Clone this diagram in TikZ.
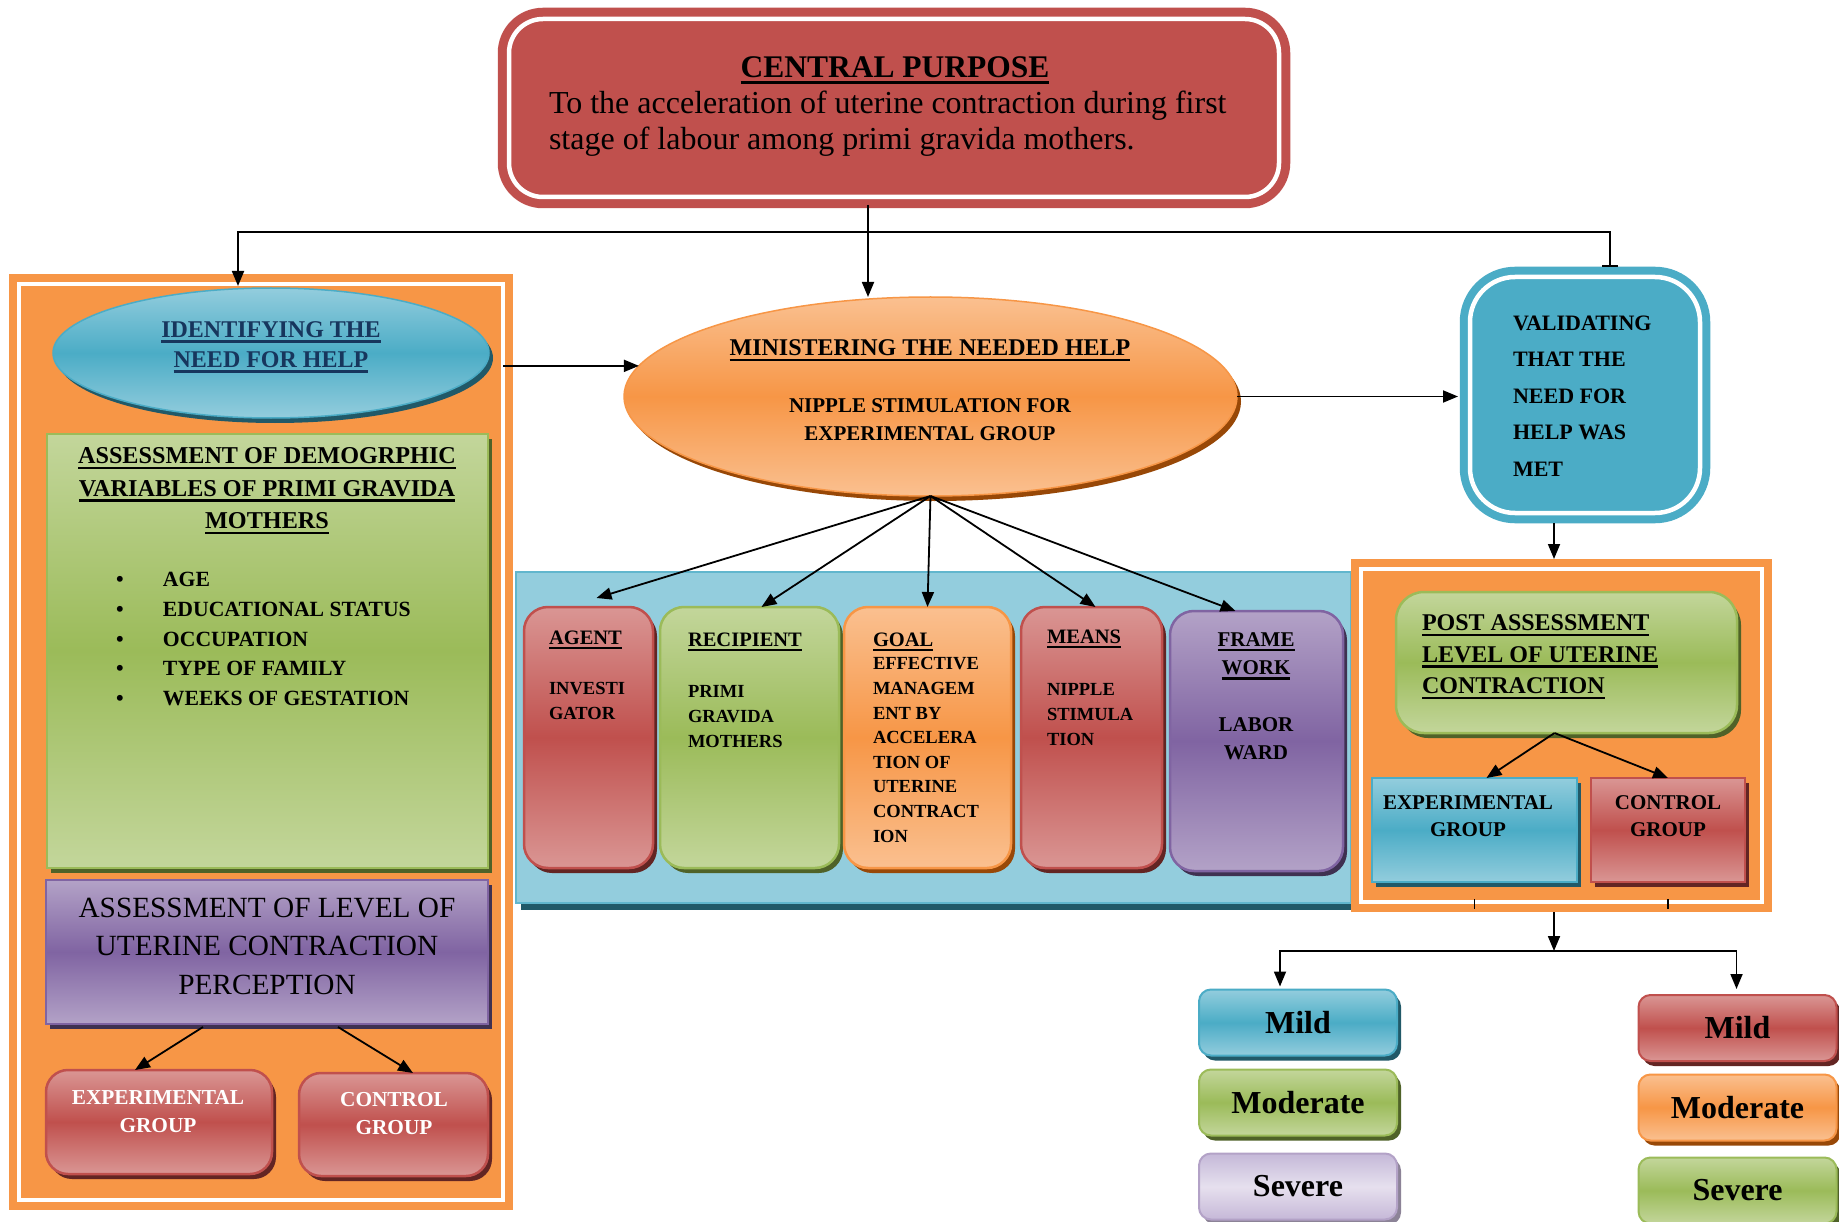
\documentclass[tikz,border=0pt]{standalone}
\usepackage{fontspec}
\setmainfont{Liberation Serif}
\usetikzlibrary{arrows.meta,shapes.geometric,shadows,calc}
\definecolor{redA}{HTML}{C0504D}\definecolor{redL}{HTML}{DA9694}\definecolor{redD}{HTML}{632523}
\definecolor{grnA}{HTML}{9BBB59}\definecolor{grnL}{HTML}{C3D69B}\definecolor{grnD}{HTML}{4F6228}
\definecolor{purA}{HTML}{8064A2}\definecolor{purL}{HTML}{B3A2C7}\definecolor{purD}{HTML}{3F3151}
\definecolor{bluA}{HTML}{4BACC6}\definecolor{bluL}{HTML}{93CDDD}\definecolor{bluD}{HTML}{215968}
\definecolor{ornA}{HTML}{F79646}\definecolor{ornL}{HTML}{FAC090}\definecolor{ornD}{HTML}{984807}
\definecolor{lavL}{HTML}{E6E0EE}\definecolor{lavM}{HTML}{C5B8D8}
\definecolor{navy}{HTML}{17365D}
\newcommand\fs[2]{\fontsize{#1}{#2}\selectfont}
\newcommand\uln[1]{\vtop{\hbox{#1}\kern2.8pt\hrule height 2.4pt}}
\begin{document}
\begin{tikzpicture}[x=1pt,y=-1pt,
  every node/.style={inner sep=0pt,outer sep=0pt},
  arr/.style={line width=1.8pt,-{Triangle[length=15pt,width=12pt]}},
  panel/.style={rectangle,fill=ornA,draw=ornA,double=white,double distance=4.5pt,line width=8pt},
  cpbox/.style={rectangle,rounded corners=34pt,fill=redA,draw=redA,double=white,double distance=4.5pt,line width=9pt},
  valbox/.style={rectangle,rounded corners=45pt,fill=bluA,draw=bluA,double=white,double distance=4.5pt,line width=8pt},
  gshade/.style n args={3}{top color=#1,bottom color=#1,middle color=#2,draw=#2,
     general shadow={fill=#3,shadow xshift=4pt,shadow yshift=-5pt}},
  redg/.style={gshade={redL}{redA}{redD}},
  grng/.style={gshade={grnL}{grnA}{grnD}},
  purg/.style={gshade={purL}{purA}{purD}},
  blug/.style={gshade={bluL}{bluA}{bluD}},
  orng/.style={gshade={ornL}{ornA}{ornD}},
  lavg/.style={top color=lavM,bottom color=lavM,middle color=lavL,draw=purL,
     general shadow={fill=purD!60,shadow xshift=4pt,shadow yshift=-5pt}},
  colbox/.style={rectangle,rounded corners=24pt,line width=2.5pt},
  sqbox/.style={rectangle,line width=2.5pt},
  grpbox/.style={rectangle,rounded corners=22pt,line width=2.5pt},
  lvbox/.style={rectangle,rounded corners=12pt,line width=2pt,minimum width=198,minimum height=66,font=\fs{32}{36}\bfseries},
  coltitle/.style={font=\fs{20.5}{26}\bfseries},
  colbody/.style={font=\fs{18.5}{25}\bfseries,align=left,anchor=west}
]
\useasboundingbox (0,0) rectangle (1839,1222);
\fill[white] (0,0) rectangle (1839,1222);

% central purpose
\node[cpbox,minimum width=770,minimum height=178] (cp) at (894,108) {};
\node[font=\fs{31.5}{36}\bfseries,anchor=base] (cpT) at (895,78) {\uln{CENTRAL PURPOSE}};
\node[font=\fs{32}{36},anchor=west,align=left] (cpB) at (549,124)
  {To the acceleration of uterine contraction during first\\stage of labour among primi gravida mothers.};

% left panel
\node[panel,minimum width=484,minimum height=916] (lp) at (261,742) {};
\node[ellipse,blug,line width=1.5pt,minimum width=436,minimum height=130] (idn) at (271,353) {};
\node[font=\fs{24}{30}\bfseries,text=navy,align=center] (idnT) at (271,347) {\uln{IDENTIFYING THE}\\\uln{NEED FOR HELP}};
\node[sqbox,grng,minimum width=441,minimum height=434] (demo) at (267.5,651) {};
\node[font=\fs{24.2}{32.5}\bfseries,align=center] (demoT) at (267,491) {\uln{ASSESSMENT OF DEMOGRPHIC}\\\uln{VARIABLES OF PRIMI GRAVIDA}\\\uln{MOTHERS}};
\node[font=\fs{21.7}{29.75}\bfseries,anchor=west,align=left] (demoL) at (116,639)
  {\makebox[47pt][l]{\textbullet}AGE\\\makebox[47pt][l]{\textbullet}EDUCATIONAL STATUS\\\makebox[47pt][l]{\textbullet}OCCUPATION\\\makebox[47pt][l]{\textbullet}TYPE OF FAMILY\\\makebox[47pt][l]{\textbullet}WEEKS OF GESTATION};
\node[sqbox,purg,minimum width=442,minimum height=144] (lvl) at (267,952) {};
\node[font=\fs{29.3}{38.5},align=center] (lvlT) at (267,946) {ASSESSMENT OF LEVEL OF\\UTERINE CONTRACTION\\PERCEPTION};
\node[grpbox,redg,minimum width=226,minimum height=104] (expL) at (159,1122) {};
\node[font=\fs{21.3}{28}\bfseries,text=white,align=center] (expLT) at (158,1112) {EXPERIMENTAL\\GROUP};
\node[grpbox,redg,minimum width=189,minimum height=103] (conL) at (393.5,1124.5) {};
\node[font=\fs{21.3}{28}\bfseries,text=white,align=center] (conLT) at (394,1114) {CONTROL\\GROUP};

% ministering
\node[ellipse,orng,line width=1.5pt,minimum width=613,minimum height=199] (mini) at (930.5,396.5) {};
\node[font=\fs{24}{30}\bfseries,anchor=base] (miniT) at (930,356) {\uln{MINISTERING THE NEEDED HELP}};
\node[font=\fs{21}{28}\bfseries,align=center] (miniB) at (930,420) {NIPPLE STIMULATION FOR\\EXPERIMENTAL GROUP};

% validating
\node[valbox,minimum width=230,minimum height=236] (val) at (1585,395) {};
\node[font=\fs{22}{36.5}\bfseries,anchor=west,align=left] (valT) at (1513,396) {VALIDATING\\THAT THE\\NEED FOR\\HELP WAS\\MET};

% band with five columns
\node[rectangle,fill=bluL,draw=bluA!70!bluL,line width=2pt,minimum width=835,minimum height=331,
   general shadow={fill=bluD,shadow xshift=5pt,shadow yshift=-7pt}] (band) at (933.5,737.5) {};
\node[colbox,redg,minimum width=129,minimum height=261] (agent) at (588.5,737.5) {};
\node[colbox,grng,minimum width=179,minimum height=261] (recip) at (749.5,737.5) {};
\node[colbox,orng,minimum width=167,minimum height=261] (goal) at (927.5,737.5) {};
\node[colbox,redg,minimum width=141,minimum height=261] (means) at (1091.5,737.5) {};
\node[colbox,purg,minimum width=173,minimum height=260] (frame) at (1256.5,741) {};
\node[coltitle,anchor=base west] (agentT) at (549,644) {\uln{AGENT}};
\node[colbody] (agentB) at (549,700.5) {INVESTI\\GATOR};
\node[coltitle,anchor=base west] (recipT) at (688,646) {\uln{RECIPIENT}};
\node[colbody] (recipB) at (688,717) {PRIMI\\GRAVIDA\\MOTHERS};
\node[coltitle,anchor=base west] (goalT) at (873,646) {\uln{GOAL}};
\node[colbody,font=\fs{18.5}{24.6}\bfseries] (goalB) at (873,750) {EFFECTIVE\\MANAGEM\\ENT BY\\ACCELERA\\TION OF\\UTERINE\\CONTRACT\\ION};
\node[coltitle,anchor=base west] (meansT) at (1047,643) {\uln{MEANS}};
\node[colbody] (meansB) at (1047,714.5) {NIPPLE\\STIMULA\\TION};
\node[font=\fs{21}{28}\bfseries,align=center] (frameT) at (1256,656) {\uln{FRAME}\\\uln{WORK}};
\node[font=\fs{21}{28}\bfseries,align=center] (frameB) at (1256,739) {LABOR\\WARD};

% right panel
\node[panel,minimum width=401,minimum height=333] (rp) at (1561.5,735.5) {};
\node[rectangle,rounded corners=28pt,line width=2.5pt,grng,minimum width=341,minimum height=141] (post) at (1566.5,662.5) {};
\node[font=\fs{24}{31.5}\bfseries,anchor=west,align=left] (postT) at (1422,657) {\uln{POST ASSESSMENT}\\\uln{LEVEL OF UTERINE}\\\uln{CONTRACTION}};
\node[sqbox,blug,minimum width=205,minimum height=104] (expR) at (1474.5,830) {};
\node[font=\fs{21}{27}\bfseries,align=center] (expRT) at (1468,816.5) {EXPERIMENTAL\\GROUP};
\node[sqbox,redg,minimum width=154,minimum height=104] (conR) at (1668,830) {};
\node[font=\fs{21}{27}\bfseries,align=center] (conRT) at (1668,816.5) {CONTROL\\GROUP};

% levels
\node[lvbox,blug] (mildL) at (1298,1022.5) {Mild};
\node[lvbox,grng] (modL) at (1298,1102.5) {Moderate};
\node[lvbox,lavg] (sevL) at (1298,1186.5) {Severe};
\node[lvbox,redg] (mildR) at (1737.5,1028) {Mild};
\node[lvbox,orng] (modR) at (1737.5,1107.5) {Moderate};
\node[lvbox,grng] (sevR) at (1737.5,1190.5) {Severe};

% connectors
\coordinate (hL) at ($(idn.north)+(-33,-56)$);
\coordinate (hR) at ($(val.north)+(25,-45)$);
\draw[line width=1.8pt,{Triangle[length=15pt,width=12pt]}-{Bar[width=16pt]}]
  ($(idn.north)+(-33,-2)$) -- (hL) -- (hR) -- ($(val.north)+(25,-10)$);
\draw[arr] ($(cp.south)+(-26,8)$) -- ($(mini.north)+(-62.5,0)$);
\draw[arr] (lp.east |- mini.174.3) -- (mini.174.3);
\draw[arr] (mini.east) -- ($(val.west)+(-12,1.5)$);
\draw[arr] (mini.south) -- ($(agent.north)+(8,-9)$);
\draw[arr] (mini.south) -- ($(recip.north)+(12,0)$);
\draw[arr] (mini.south) -- (goal.north);
\draw[arr] (mini.south) -- ($(means.north)+(4,0)$);
\draw[arr] (mini.south) -- ($(frame.north)+(-21,0)$);
\draw[arr] ($(lvl.south)+(-64,3)$) -- ($(expL.north)+(-24,0)$);
\draw[arr] ($(lvl.south)+(71,3)$) -- ($(conL.north)+(19.5,0)$);
\draw[arr] ($(val.south)+(-31,10)$) -- ($(rp.north)+(-7.5,-10)$);
\draw[arr] ($(post.south)+(-12,0)$) -- ($(expR.north)+(12,0)$);
\draw[arr] ($(post.south)+(-12,0)$) -- (conR.north);
\draw[line width=1.2pt] ($(expR.south)+(0,17)$) -- ($(expR.south)+(0,27)$);
\draw[line width=1.2pt] ($(conR.south)+(0,17)$) -- ($(conR.south)+(0,27)$);
\coordinate (split) at ($(rp.south)+(-7.5,49)$);
\draw[arr] ($(rp.south)+(-7.5,10)$) -- (split);
\draw[arr] (split) -| ($(mildL.north)+(-18,-3)$);
\draw[arr] (split) -| ($(mildR.north)+(-1,-6)$);
\end{tikzpicture}
\end{document}
